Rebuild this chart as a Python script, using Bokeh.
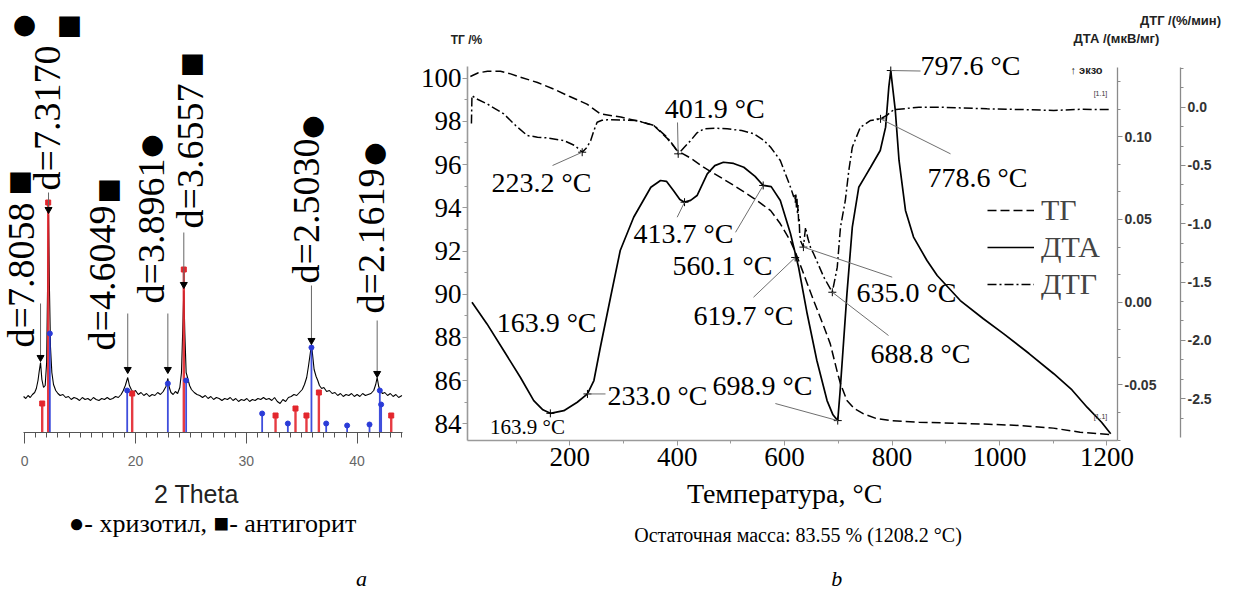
import math
from bokeh.plotting import figure
from bokeh.models import (Range1d, LinearAxis, Label, SingleIntervalTicker,
                          CustomJSTickFormatter, Legend, LegendItem)
from bokeh.layouts import row
from bokeh.embed import file_html
from bokeh.resources import INLINE

SERIF = "Liberation Serif"
SANS = "Liberation Sans"

# ======================= (a) XRD data =======================
xrd_2theta = [9.90, 10.10, 10.30, 10.50, 10.70, 10.90, 11.05, 11.20, 11.32, 11.43, 11.55, 11.70,
              11.85, 11.98, 12.07, 12.15, 12.24, 12.33, 12.45, 12.60, 12.80, 13.00, 13.20, 13.45,
              13.70, 13.95, 14.20, 14.45, 14.70, 14.95, 15.20, 15.45, 15.70, 15.95, 16.20, 16.45,
              16.70, 16.95, 17.20, 17.45, 17.70, 17.95, 18.20, 18.45, 18.70, 18.90, 19.08, 19.30,
              19.45, 19.62, 19.80, 20.00, 20.25, 20.50, 20.75, 21.00, 21.25, 21.50, 21.75, 22.00,
              22.25, 22.50, 22.75, 22.92, 23.05, 23.20, 23.40, 23.60, 23.80, 24.00, 24.15, 24.27,
              24.36, 24.45, 24.57, 24.72, 24.88, 25.05, 25.30, 25.55, 25.80, 26.05, 26.30, 26.55,
              26.80, 27.05, 27.30, 27.55, 27.80, 28.05, 28.30, 28.55, 28.80, 29.05, 29.30, 29.55,
              29.80, 30.05, 30.30, 30.55, 30.80, 31.05, 31.30, 31.55, 31.80, 32.05, 32.30, 32.55,
              32.80, 33.05, 33.30, 33.55, 33.80, 34.05, 34.30, 34.55, 34.80, 35.05, 35.25, 35.45,
              35.62, 35.77, 35.88, 35.98, 36.12, 36.30, 36.45, 36.60, 36.80, 37.00, 37.25, 37.50,
              37.75, 38.00, 38.25, 38.50, 38.75, 39.00, 39.25, 39.50, 39.75, 40.00, 40.25, 40.50,
              40.75, 41.00, 41.25, 41.50, 41.68, 41.81, 41.95, 42.12, 42.30, 42.50, 42.75, 43.00,
              43.25, 43.50, 43.75, 44.05]
xrd_intensity = [36, 34, 37, 35, 38, 40, 44, 52, 62, 70, 53, 45,
                 47, 70, 150, 218, 140, 85, 60, 48, 42, 39, 37, 38,
                 35, 36, 33, 35, 34, 32, 35, 33, 34, 32, 35, 33,
                 32, 34, 33, 35, 33, 34, 36, 35, 38, 42, 47, 55,
                 47, 43, 40, 42, 38, 40, 37, 39, 36, 38, 37, 40,
                 38, 41, 46, 54, 45, 40, 38, 41, 39, 45, 60, 105,
                 142, 100, 60, 54, 47, 43, 40, 38, 37, 35, 37, 34,
                 36, 33, 35, 34, 32, 34, 33, 35, 32, 34, 31, 33,
                 32, 34, 31, 33, 32, 34, 33, 35, 33, 34, 32, 35,
                 31, 29, 33, 31, 35, 36, 38, 37, 40, 43, 48, 55,
                 67, 79, 88, 78, 63, 56, 52, 47, 44, 45, 41, 42,
                 39, 40, 37, 39, 36, 38, 37, 39, 36, 38, 36, 39,
                 37, 38, 39, 42, 48, 55, 46, 41, 39, 40, 37, 39,
                 36, 38, 35, 37]

antigorite_2theta = [11.58, 12.12, 19.70, 24.36, 32.64, 34.44, 35.43, 36.55, 43.08]
antigorite_int = [29, 230, 39, 163, 17, 24, 17, 40, 17]
chrysotile_2theta = [12.27, 19.25, 22.92, 24.57, 31.43, 33.75, 35.88, 37.21, 39.10, 41.12, 42.05, 42.17]
chrysotile_int = [99, 42, 49, 52, 19, 9, 85, 9, 7, 8, 42, 28]

peak_d = ["7.8058", "7.3170", "4.6049", "3.8961", "3.6557", "2.5030", "2.1619"]
peak_2theta = [11.43, 12.15, 19.30, 22.92, 24.36, 35.88, 41.81]
peak_tip = [72, 220, 60, 60, 145, 89, 56]
xrd_ticks_labels = {10: "0"}

# ======================= (b) thermal analysis data =======================
tg_T = [15, 30, 47, 71, 90, 108, 140, 170, 200, 232, 257, 295, 330, 357, 380, 400, 425, 449,
        480, 511, 545, 574, 592, 611, 620, 630, 642, 654, 673, 685, 698, 704, 716, 730, 747,
        770, 797, 850, 915, 980, 1039, 1100, 1150, 1180, 1207]
tg_val = [100.08, 100.25, 100.32, 100.32, 100.20, 100.05, 99.80, 99.50, 99.15, 98.80, 98.35,
          98.20, 98.00, 97.80, 97.25, 96.65, 96.30, 95.88, 95.42, 94.95, 94.40, 93.87, 93.26,
          92.45, 91.95, 91.30, 90.50, 89.71, 88.50, 87.70, 86.40, 85.85, 85.08, 84.70, 84.46,
          84.25, 84.15, 84.07, 84.03, 83.98, 83.92, 83.80, 83.61, 83.55, 83.50]

dta_T = [18, 46, 77, 108, 133, 150, 163.9, 189, 214, 233, 245, 257, 276, 294, 319, 351, 369, 380,
         393, 405, 413.7, 425, 437, 456, 470, 486, 505, 524, 545, 560.1, 575, 592, 611, 626, 642,
         660, 679, 690, 698.9, 703, 708, 716, 726, 738, 750, 760, 778, 788, 794, 797.6, 801, 806,
         813, 825, 840, 865, 884, 927, 970, 1008, 1055, 1101, 1135, 1163, 1190, 1207]
dta_val = [0.0000, -0.0131, -0.0292, -0.0453, -0.0594, -0.0650, -0.0671, -0.0655, -0.0604,
           -0.0554, -0.0473, -0.0272, 0.0030, 0.0312, 0.0513, 0.0694, 0.0735, 0.0730, 0.0675,
           0.0620, 0.0604, 0.0615, 0.0644, 0.0775, 0.0825, 0.0845, 0.0838, 0.0815, 0.0760,
           0.0705, 0.0698, 0.0614, 0.0413, 0.0211, -0.0070, -0.0352, -0.0594, -0.0680, -0.0715,
           -0.0550, -0.0320, 0.0050, 0.0453, 0.0694, 0.0760, 0.0815, 0.0916, 0.1057, 0.1300,
           0.1399, 0.1300, 0.1160, 0.0856, 0.0554, 0.0393, 0.0252, 0.0161, 0.0010, -0.0100,
           -0.0191, -0.0310, -0.0432, -0.0530, -0.0634, -0.0725, -0.0795]

dtg_T = [17, 18, 25, 46, 77, 100, 121, 140, 158, 189, 210, 223.2, 232, 239, 245, 251, 260, 270,
         300, 325, 357, 381, 395, 401.9, 412, 425, 437, 450, 470, 493, 520, 543, 560, 574, 592,
         611, 617, 619, 620, 621, 622, 623, 624, 625, 626, 627, 628, 630, 635, 639, 643, 648,
         654, 673, 688.8, 698, 704, 713, 719.5, 726, 741, 760, 778.6, 790, 803, 850, 890, 977,
         1040, 1101, 1150, 1207]
dtg_val = [-0.14, 0.100, 0.075, 0.029, -0.057, -0.160, -0.243, -0.257, -0.263, -0.286, -0.330,
           -0.386, -0.345, -0.286, -0.200, -0.129, -0.112, -0.108, -0.110, -0.114, -0.157,
           -0.257, -0.340, -0.400, -0.350, -0.286, -0.220, -0.185, -0.180, -0.185, -0.200,
           -0.228, -0.280, -0.343, -0.457, -0.686, -0.770, -0.750, -0.820, -0.740, -0.860,
           -0.780, -0.920, -0.840, -0.980, -0.950, -1.080, -1.150, -1.200, -1.030, -1.120,
           -1.200, -1.257, -1.458, -1.587, -1.372, -1.029, -0.800, -0.543, -0.343, -0.172,
           -0.114, -0.100, -0.070, -0.022, 0.000, 0.000, -0.014, -0.020, -0.028, -0.018, -0.020]

dtg_mark_T = [223.2, 401.9, 635.0, 688.8, 778.6]
dtg_mark_v = [-0.386, -0.400, -1.200, -1.587, -0.100]
dta_mark_T = [163.9, 233.0, 413.7, 560.1, 698.9, 797.6]
dta_mark_v = [-0.0671, -0.0554, 0.0604, 0.0705, -0.0715, 0.1399]
tg_mark_T = [619.7]
tg_mark_v = [91.70]
residual_mass = 83.55
residual_T = 1208.2

# ======================= panel (a) =======================
pA = figure(width=413, height=593, x_range=Range1d(7.816, 45.09), y_range=Range1d(-161, 432),
            output_backend="svg", toolbar_location=None, y_axis_location=None, title=None,
            min_border=0)
pA.outline_line_color = None
pA.grid.visible = False

pA.line(xrd_2theta, xrd_intensity, color="black", line_width=1.1)
RED, BLUE = "#e3262d", "#2a3bd8"
pA.segment(x0=antigorite_2theta, y0=[0] * len(antigorite_2theta), x1=antigorite_2theta,
           y1=antigorite_int, color=RED, line_width=2.4, alpha=0.9)
pA.scatter(antigorite_2theta, antigorite_int, marker="square", size=5, color=RED)
pA.segment(x0=chrysotile_2theta, y0=[0] * len(chrysotile_2theta), x1=chrysotile_2theta,
           y1=chrysotile_int, color=BLUE, line_width=1.8, alpha=0.9)
pA.scatter(chrysotile_2theta, chrysotile_int, marker="circle", size=5, color=BLUE)

arrow_start = [129, 240, 119, 119, 200, 147, 112]
pA.segment(x0=peak_2theta, y0=arrow_start, x1=peak_2theta, y1=peak_tip, color="#666", line_width=1)
pA.scatter(peak_2theta, [t + 3 for t in peak_tip], marker="inverted_triangle", size=7, color="black")

ax = pA.xaxis[0]
ax.fixed_location = 0
ax.bounds = (9.85, 44.1)
ax.ticker = SingleIntervalTicker(interval=10, num_minor_ticks=10)
ax.major_label_overrides = xrd_ticks_labels
ax.axis_line_color = "#555"
ax.major_tick_line_color = "#555"
ax.minor_tick_line_color = "#555"
ax.major_tick_out = 11
ax.major_tick_in = 0
ax.minor_tick_out = 5
ax.minor_tick_in = 0
ax.major_label_standoff = 12
ax.major_label_text_font = SANS
ax.major_label_text_font_size = "14px"
ax.major_label_text_color = "#666"

lab_x = [9.70, 12.05, 17.01, 21.43, 24.95, 35.42, 41.29]
lab_y = [85, 242, 82, 129, 204, 149, 119]
for d, lx, ly in zip(peak_d, lab_x, lab_y):
    pA.add_layout(Label(x=lx, y=ly, text="d=" + d, angle=math.pi / 2, text_align="left",
                        text_baseline="middle", text_font=SERIF, text_font_size="38px",
                        text_color="black"))
sym = [(9.62, 252, "■"), (9.98, 409, "●"), (14.04, 408, "■"), (17.65, 244, "■"),
       (21.53, 289, "●"), (25.14, 370, "■"), (36.07, 308, "●"), (41.66, 281, "●")]
for sx, sy, ch in sym:
    pA.add_layout(Label(x=sx, y=sy, text=ch, text_align="center", text_baseline="middle",
                        text_font="DejaVu Sans", text_font_size="27px", text_color="black"))

pA.add_layout(Label(x=25.5, y=-61, text="2 Theta", text_align="center", text_baseline="middle",
                    text_font=SANS, text_font_size="25px", text_color="#222"))
pA.add_layout(Label(x=26.95, y=-91, text="●- хризотил, ■- антигорит", text_align="center",
                    text_baseline="middle", text_font=SERIF, text_font_size="26px",
                    text_color="black"))
pA.add_layout(Label(x=40.4, y=-146, text="a", text_align="center", text_baseline="middle",
                    text_font=SERIF, text_font_style="italic", text_font_size="22px",
                    text_color="black"))

# ======================= panel (b) =======================
pB = figure(width=820, height=593, x_range=Range1d(-90.84, 1435.6),
            y_range=Range1d(76.144, 103.597), output_backend="svg", toolbar_location=None,
            title=None, min_border=0)
pB.outline_line_color = None
pB.grid.visible = False
pB.extra_y_ranges = {"dta": Range1d(-0.17591, 0.18219), "dtg": Range1d(-4.1707, 0.91509)}

T_MIN, T_MAX = 9.7, 1219.7
TG_MIN, TG_MAX = 83.227, 100.54

tg_r = pB.line(tg_T, tg_val, color="black", line_width=1.5, line_dash="9 4")
dta_r = pB.line(dta_T, dta_val, color="black", line_width=1.7, y_range_name="dta")
dtg_r = pB.line(dtg_T, dtg_val, color="black", line_width=1.5, line_dash="9 3 2 3",
                y_range_name="dtg")

xa = pB.xaxis[0]
xa.fixed_location = TG_MIN
xa.bounds = (T_MIN, T_MAX)
xa.ticker = SingleIntervalTicker(interval=200, num_minor_ticks=2)
ya = pB.yaxis[0]
ya.fixed_location = T_MIN
ya.bounds = (TG_MIN, TG_MAX)
ya.ticker = SingleIntervalTicker(interval=2, num_minor_ticks=2)
for a in (xa, ya):
    a.axis_line_color = "#9a9a9a"
    a.axis_line_width = 1.6
    a.major_tick_line_color = "#9a9a9a"
    a.minor_tick_line_color = "#9a9a9a"
    a.major_tick_out = 5
    a.major_tick_in = 0
    a.minor_tick_out = 3
    a.minor_tick_in = 0
    a.major_label_text_font = SERIF
    a.major_label_text_font_size = "27px"
    a.major_label_text_color = "black"
xa.major_label_standoff = 2
ya.major_label_standoff = 1

dta_ax = LinearAxis(y_range_name="dta", fixed_location=T_MAX, bounds=(-0.0835, 0.1418),
                    ticker=SingleIntervalTicker(interval=0.05, num_minor_ticks=3),
                    formatter=CustomJSTickFormatter(code="return tick.toFixed(2)"))
dtg_ax = LinearAxis(y_range_name="dtg", fixed_location=1336.9, bounds=(-2.833, 0.3405),
                    ticker=SingleIntervalTicker(interval=0.5, num_minor_ticks=3),
                    formatter=CustomJSTickFormatter(code="return tick.toFixed(1)"))
for a in (dta_ax, dtg_ax):
    a.axis_line_color = "#8a8a8a"
    a.axis_line_width = 1.3
    a.major_tick_line_color = "#8a8a8a"
    a.minor_tick_line_color = "#8a8a8a"
    a.major_tick_out = 5
    a.major_tick_in = 0
    a.minor_tick_out = 3
    a.minor_tick_in = 0
    a.major_label_standoff = 2
    a.major_label_text_font = SANS
    a.major_label_text_font_style = "bold"
    a.major_label_text_font_size = "14px"
    a.major_label_text_color = "#333"
pB.add_layout(dta_ax, "right")
pB.add_layout(dtg_ax, "right")

pB.scatter(dtg_mark_T, dtg_mark_v, y_range_name="dtg", marker="cross", size=8, color="black")
pB.scatter(dta_mark_T, dta_mark_v, y_range_name="dta", marker="cross", size=8, color="black")
pB.scatter(tg_mark_T, tg_mark_v, marker="cross", size=8, color="black")

LEAD = dict(color="#6f6f6f", line_width=1)
dtg_text = [(147.3, 95.19), (469.7, 98.62), (826.8, 90.10), (852.8, 87.26), (959.1, 95.38)]
dtg_lead = [(168.0, -0.500), (400.6, -0.131), (800.3, -1.458), (793.4, -1.958), (908.8, -0.400)]
dta_text = [None, (363.3, 85.31), (411.7, 92.83), (484.4, 91.33), (558.8, 85.77), (946.1, 100.59)]
dta_lead = [None, (266.6, -0.0554), (400.0, 0.0513), (508.6, 0.0422), (582.8, -0.0612), (853.0, 0.1396)]
tg_text = [(523.5, 89.01)]
tg_lead = [(542.1, 89.86)]

pB.segment(x0=[l[0] for l in dtg_lead], y0=[l[1] for l in dtg_lead], x1=dtg_mark_T, y1=dtg_mark_v,
           y_range_name="dtg", **LEAD)
dl = [(l, t, v) for l, t, v in zip(dta_lead, dta_mark_T, dta_mark_v) if l is not None]
pB.segment(x0=[l[0] for l, t, v in dl], y0=[l[1] for l, t, v in dl], x1=[t for l, t, v in dl],
           y1=[v for l, t, v in dl], y_range_name="dta", **LEAD)
pB.segment(x0=[l[0] for l in tg_lead], y0=[l[1] for l in tg_lead], x1=tg_mark_T, y1=tg_mark_v, **LEAD)


def ann(x, y, txt, size="28px"):
    pB.add_layout(Label(x=x, y=y, text=txt, text_align="center", text_baseline="middle",
                        text_font=SERIF, text_font_size=size, text_color="black"))


for t, pos in zip(dtg_mark_T, dtg_text):
    ann(pos[0], pos[1], f"{t:.1f} °C")
for t, pos in zip(dta_mark_T, dta_text):
    if pos is not None:
        ann(pos[0], pos[1], f"{t:.1f} °C")
for t, pos in zip(tg_mark_T, tg_text):
    ann(pos[0], pos[1], f"{t:.1f} °C")
ann(156.9, 88.67, f"{dta_mark_T[0]:.1f} °C")
ann(121.4, 83.87, f"{dta_mark_T[0]:.1f} °C", size="21px")

for yy in (99.29, 84.33):
    pB.add_layout(Label(x=1188, y=yy, text="[1.1]", text_align="center", text_baseline="middle",
                        text_font=SANS, text_font_size="7px", text_color="#333"))


def title_txt(x, y, txt, size="13px"):
    pB.add_layout(Label(x=x, y=y, text=txt, text_align="center", text_baseline="middle",
                        text_font=SANS, text_font_style="bold", text_font_size=size,
                        text_color="#222"))


title_txt(7.8, 101.79, "ТГ /%", "12px")
title_txt(1336.9, 102.67, "ДТГ /(%/мин)", "13px")
title_txt(1217.7, 101.84, "ДТА /(мкВ/мг)", "13px")
title_txt(1162.0, 100.36, "↑ экзо", "11px")

pB.add_layout(Label(x=600, y=80.77, text="Температура, °C", text_align="center",
                    text_baseline="middle", text_font=SERIF, text_font_size="28px",
                    text_color="black"))
pB.add_layout(Label(x=624.9, y=78.87,
                    text=f"Остаточная масса: {residual_mass:.2f} % ({residual_T:.1f} °C)",
                    text_align="center", text_baseline="middle", text_font=SERIF,
                    text_font_size="20px", text_color="black"))
pB.add_layout(Label(x=697, y=76.83, text="b", text_align="center", text_baseline="middle",
                    text_font=SERIF, text_font_style="italic", text_font_size="22px",
                    text_color="black"))

legend = Legend(items=[LegendItem(label="ТГ", renderers=[tg_r]),
                       LegendItem(label="ДТА", renderers=[dta_r]),
                       LegendItem(label="ДТГ", renderers=[dtg_r])],
                location=(574, 292), glyph_width=47, glyph_height=34, label_height=34,
                spacing=3, padding=0, margin=0, label_standoff=7,
                label_text_font=SERIF, label_text_font_size="30px", label_text_line_height=1.0,
                border_line_color=None, background_fill_alpha=0)
pB.add_layout(legend)

layout = row(pA, pB)
open("out.html", "w").write(file_html(layout, INLINE))
